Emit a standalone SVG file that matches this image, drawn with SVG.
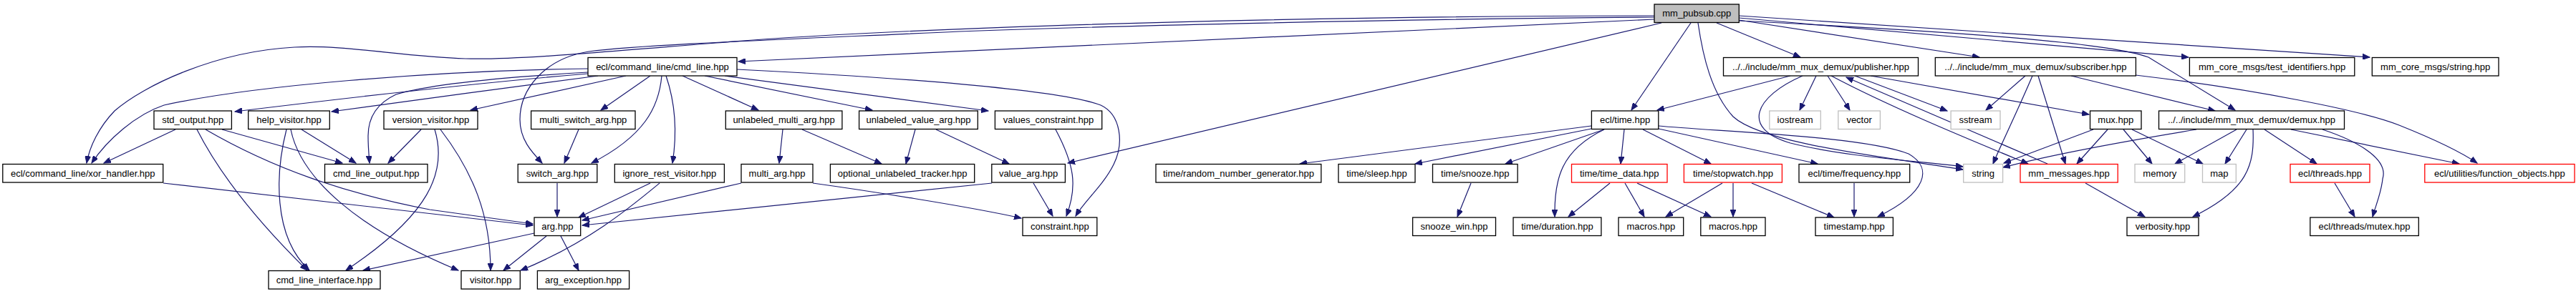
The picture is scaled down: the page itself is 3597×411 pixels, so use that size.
<svg xmlns="http://www.w3.org/2000/svg" width="3597" height="411" viewBox="0 0 3597 411">
<style>
.node rect{fill:#fff;stroke:#000;stroke-width:1.3}
.node.ext rect{stroke:#bfbfbf}
.node.trunc rect{stroke:#ff0000}
.node.main rect{fill:#bfbfbf}
.node text{font-family:"Liberation Sans",Arial,sans-serif;font-size:13px;fill:#000;text-anchor:middle}
.edges path{fill:none;stroke:#191970;stroke-width:1.2;marker-end:url(#arr)}
</style>
<defs>
<marker id="arr" markerUnits="userSpaceOnUse" markerWidth="11" markerHeight="8" refX="10" refY="4" orient="auto">
<path d="M0,0 L10,4 L0,8 z" fill="#191970" stroke="#191970" stroke-width="1"/>
</marker>
</defs>
<rect x="0" y="0" width="3597" height="411" fill="#fff"/>
<g class="edges" id="edges">
<path d="M2310,27 L1031,86"/>
<path d="M2310,22 C 1900,22 1300,35 1000,60 C 850,72 720,84 650,82 C 560,79 480,62 411,66 C 300,72 200,120 160,155 C 138,178 125,205 121,228"/>
<path d="M2310,24 C 1900,27 1500,38 1340,44 C 1100,55 900,62 822,72 C 760,82 726,125 726,167 C 726,195 742,212 757,228"/>
<path d="M2320,32 L1491,228"/>
<path d="M2361,32 L2278,154"/>
<path d="M2371,32 C 2378,80 2390,130 2420,163 C 2460,200 2620,218 2741,237"/>
<path d="M2397,32 L2514,80"/>
<path d="M2428,28 L2764,80"/>
<path d="M2428,29 C 2800,48 2950,62 3000,80 L3121,154"/>
<path d="M2428,25 L3056,80"/>
<path d="M2428,22 L3309,80"/>
<path d="M821,96 C 600,99 350,120 229,147 C 190,160 150,195 128,228"/>
<path d="M821,101 C 700,108 600,118 553,132 C 525,145 514,165 514,190 C 514,205 515,215 516,228"/>
<path d="M821,103 C 700,113 500,135 328,156"/>
<path d="M835,106 C 700,123 600,138 463,156"/>
<path d="M874,106 L657,154"/>
<path d="M908,106 L839,154"/>
<path d="M924,106 C 920,150 900,190 826,228"/>
<path d="M930,106 C 945,150 945,190 939,228"/>
<path d="M953,106 L1059,154"/>
<path d="M984,106 L1218,154"/>
<path d="M1012,106 L1380,155"/>
<path d="M1029,97 C 1250,108 1480,125 1537,147 C 1565,160 1570,200 1555,230 C 1540,260 1515,280 1502,302"/>
<path d="M245,181 L145,228"/>
<path d="M310,181 L478,228"/>
<path d="M275,181 C 310,250 370,320 429,378"/>
<path d="M287,181 C 380,235 480,270 600,293 L744,313"/>
<path d="M228,256 L744,315"/>
<path d="M421,181 L497,228"/>
<path d="M400,181 C 385,240 380,330 432,378"/>
<path d="M406,181 C 420,250 500,320 640,378"/>
<path d="M588,181 L542,228"/>
<path d="M607,181 C 625,240 600,300 483,378"/>
<path d="M615,181 C 660,240 685,300 685,378"/>
<path d="M808,181 L788,228"/>
<path d="M778,256 L778,303"/>
<path d="M908,256 L808,304"/>
<path d="M921,256 C 880,290 820,340 727,378"/>
<path d="M1093,181 L1088,228"/>
<path d="M1120,181 L1231,229"/>
<path d="M1035,256 L813,308"/>
<path d="M1135,256 C 1200,265 1350,288 1426,305"/>
<path d="M1278,181 L1265,229"/>
<path d="M1307,181 L1409,229"/>
<path d="M1474,181 C 1500,230 1505,260 1489,302"/>
<path d="M1443,256 L1470,302"/>
<path d="M1385,256 L813,315"/>
<path d="M746,326 L507,378"/>
<path d="M763,330 L703,378"/>
<path d="M783,330 L808,378"/>
<path d="M2222,176 L1815,229"/>
<path d="M2222,180 L1976,229"/>
<path d="M2240,181 L2102,229"/>
<path d="M2240,181 C 2180,210 2170,250 2171,303"/>
<path d="M2268,181 L2263,229"/>
<path d="M2294,181 L2389,229"/>
<path d="M2316,180 L2538,229"/>
<path d="M2316,176 C 2400,184 2600,190 2665,215 C 2700,235 2690,270 2622,303"/>
<path d="M2248,256 L2190,303"/>
<path d="M2269,256 L2296,303"/>
<path d="M2286,256 L2389,303"/>
<path d="M2405,256 L2326,303"/>
<path d="M2420,256 L2420,303"/>
<path d="M2446,256 L2561,304"/>
<path d="M2589,256 L2589,303"/>
<path d="M2054,256 L2035,303"/>
<path d="M2500,106 L2314,154"/>
<path d="M2517,106 C 2450,135 2430,180 2500,200 C 2580,220 2680,225 2741,233"/>
<path d="M2536,106 L2513,154"/>
<path d="M2552,106 L2583,154"/>
<path d="M2590,106 L2719,155"/>
<path d="M2557,106 C 2640,150 2750,195 2832,229"/>
<path d="M2859,229 L2578,108"/>
<path d="M2612,106 L2917,160"/>
<path d="M2828,106 L2773,154"/>
<path d="M2838,106 C 2815,160 2795,200 2783,229"/>
<path d="M2846,106 L2884,229"/>
<path d="M2892,106 L3093,155"/>
<path d="M2982,105 C 3150,125 3300,155 3350,175 C 3400,195 3440,215 3459,228"/>
<path d="M2923,181 L2798,228"/>
<path d="M2943,181 L2900,229"/>
<path d="M2965,181 L3005,229"/>
<path d="M2977,181 L3076,229"/>
<path d="M3067,181 C 3000,192 2880,212 2797,234"/>
<path d="M3123,181 L3037,229"/>
<path d="M3137,181 L3107,229"/>
<path d="M3146,181 C 3148,230 3140,265 3062,303"/>
<path d="M3162,181 L3235,229"/>
<path d="M3199,181 L3434,229"/>
<path d="M3243,181 C 3300,200 3335,225 3327,250 C 3325,270 3318,285 3313,303"/>
<path d="M3260,256 L3288,303"/>
<path d="M2912,256 L2995,303"/>
</g>
<g id="n_main" class="node main"><rect x="2310" y="6" width="118.3" height="25.5"/><text x="2369.2" y="23.4">mm_pubsub.cpp</text></g>
<g id="n_cmdline" class="node"><rect x="821" y="80.5" width="208" height="25.5"/><text x="925" y="97.9">ecl/command_line/cmd_line.hpp</text></g>
<g id="n_pub" class="node"><rect x="2406.5" y="80.5" width="272" height="25.5"/><text x="2542.5" y="97.9">../../include/mm_mux_demux/publisher.hpp</text></g>
<g id="n_sub" class="node"><rect x="2702.3" y="80.5" width="280.1" height="25.5"/><text x="2842.35" y="97.9">../../include/mm_mux_demux/subscriber.hpp</text></g>
<g id="n_testid" class="node"><rect x="3057.4" y="80.5" width="230.4" height="25.5"/><text x="3172.6" y="97.9">mm_core_msgs/test_identifiers.hpp</text></g>
<g id="n_mcstring" class="node"><rect x="3312.3" y="80.5" width="176.7" height="25.5"/><text x="3400.65" y="97.9">mm_core_msgs/string.hpp</text></g>
<g id="n_stdout" class="node"><rect x="215" y="155" width="108.4" height="25.5"/><text x="269.2" y="172.4">std_output.hpp</text></g>
<g id="n_help" class="node"><rect x="346.7" y="155" width="113.6" height="25.5"/><text x="403.5" y="172.4">help_visitor.hpp</text></g>
<g id="n_version" class="node"><rect x="536" y="155" width="131" height="25.5"/><text x="601.5" y="172.4">version_visitor.hpp</text></g>
<g id="n_mswitch" class="node"><rect x="741.6" y="155" width="145.4" height="25.5"/><text x="814.3" y="172.4">multi_switch_arg.hpp</text></g>
<g id="n_umulti" class="node"><rect x="1013.3" y="155" width="162.6" height="25.5"/><text x="1094.6" y="172.4">unlabeled_multi_arg.hpp</text></g>
<g id="n_uvalue" class="node"><rect x="1199.6" y="155" width="165.7" height="25.5"/><text x="1282.45" y="172.4">unlabeled_value_arg.hpp</text></g>
<g id="n_valcons" class="node"><rect x="1389.4" y="155" width="149.3" height="25.5"/><text x="1464.05" y="172.4">values_constraint.hpp</text></g>
<g id="n_time" class="node"><rect x="2222.4" y="155" width="93.4" height="25.5"/><text x="2269.1" y="172.4">ecl/time.hpp</text></g>
<g id="n_iostream" class="node ext"><rect x="2470.8" y="155" width="71.5" height="25.5"/><text x="2506.55" y="172.4">iostream</text></g>
<g id="n_vector" class="node ext"><rect x="2566.8" y="155" width="58.6" height="25.5"/><text x="2596.1" y="172.4">vector</text></g>
<g id="n_sstream" class="node ext"><rect x="2724.1" y="155" width="68.9" height="25.5"/><text x="2758.55" y="172.4">sstream</text></g>
<g id="n_mux" class="node"><rect x="2918.5" y="155" width="71.5" height="25.5"/><text x="2954.25" y="172.4">mux.hpp</text></g>
<g id="n_demux" class="node"><rect x="3014.5" y="155" width="259" height="25.5"/><text x="3144" y="172.4">../../include/mm_mux_demux/demux.hpp</text></g>
<g id="n_xor" class="node"><rect x="3.8" y="229.5" width="223.9" height="25.5"/><text x="115.75" y="246.9">ecl/command_line/xor_handler.hpp</text></g>
<g id="n_cloutput" class="node"><rect x="453.5" y="229.5" width="143.5" height="25.5"/><text x="525.25" y="246.9">cmd_line_output.hpp</text></g>
<g id="n_switch" class="node"><rect x="723.2" y="229.5" width="110.6" height="25.5"/><text x="778.5" y="246.9">switch_arg.hpp</text></g>
<g id="n_ignore" class="node"><rect x="858.3" y="229.5" width="153.1" height="25.5"/><text x="934.85" y="246.9">ignore_rest_visitor.hpp</text></g>
<g id="n_multi" class="node"><rect x="1035" y="229.5" width="100" height="25.5"/><text x="1085" y="246.9">multi_arg.hpp</text></g>
<g id="n_optional" class="node"><rect x="1159.4" y="229.5" width="201.3" height="25.5"/><text x="1260.05" y="246.9">optional_unlabeled_tracker.hpp</text></g>
<g id="n_valuearg" class="node"><rect x="1384.8" y="229.5" width="102.6" height="25.5"/><text x="1436.1" y="246.9">value_arg.hpp</text></g>
<g id="n_rng" class="node"><rect x="1614" y="229.5" width="230.8" height="25.5"/><text x="1729.4" y="246.9">time/random_number_generator.hpp</text></g>
<g id="n_sleep" class="node"><rect x="1868.9" y="229.5" width="107.1" height="25.5"/><text x="1922.45" y="246.9">time/sleep.hpp</text></g>
<g id="n_snooze" class="node"><rect x="2000.5" y="229.5" width="118.6" height="25.5"/><text x="2059.8" y="246.9">time/snooze.hpp</text></g>
<g id="n_timedata" class="node trunc"><rect x="2194.5" y="229.5" width="133.5" height="25.5"/><text x="2261.25" y="246.9">time/time_data.hpp</text></g>
<g id="n_stopwatch" class="node trunc"><rect x="2351.4" y="229.5" width="137" height="25.5"/><text x="2419.9" y="246.9">time/stopwatch.hpp</text></g>
<g id="n_freq" class="node"><rect x="2512" y="229.5" width="154.7" height="25.5"/><text x="2589.35" y="246.9">ecl/time/frequency.hpp</text></g>
<g id="n_string" class="node ext"><rect x="2741.7" y="229.5" width="54.9" height="25.5"/><text x="2769.15" y="246.9">string</text></g>
<g id="n_mmmsg" class="node trunc"><rect x="2821" y="229.5" width="136.2" height="25.5"/><text x="2889.1" y="246.9">mm_messages.hpp</text></g>
<g id="n_memory" class="node ext"><rect x="2981" y="229.5" width="69.7" height="25.5"/><text x="3015.85" y="246.9">memory</text></g>
<g id="n_map" class="node ext"><rect x="3075.5" y="229.5" width="46.8" height="25.5"/><text x="3098.9" y="246.9">map</text></g>
<g id="n_threads" class="node trunc"><rect x="3198" y="229.5" width="111" height="25.5"/><text x="3253.5" y="246.9">ecl/threads.hpp</text></g>
<g id="n_funcobj" class="node trunc"><rect x="3385.8" y="229.5" width="209.2" height="25.5"/><text x="3490.4" y="246.9">ecl/utilities/function_objects.hpp</text></g>
<g id="n_arg" class="node"><rect x="746" y="304" width="64.7" height="25.5"/><text x="778.35" y="321.4">arg.hpp</text></g>
<g id="n_constraint" class="node"><rect x="1428" y="304" width="103.8" height="25.5"/><text x="1479.9" y="321.4">constraint.hpp</text></g>
<g id="n_snoozewin" class="node"><rect x="1972.6" y="304" width="115.9" height="25.5"/><text x="2030.55" y="321.4">snooze_win.hpp</text></g>
<g id="n_duration" class="node"><rect x="2113" y="304" width="122.9" height="25.5"/><text x="2174.45" y="321.4">time/duration.hpp</text></g>
<g id="n_macros1" class="node"><rect x="2260" y="304" width="90.7" height="25.5"/><text x="2305.35" y="321.4">macros.hpp</text></g>
<g id="n_macros2" class="node"><rect x="2374.8" y="304" width="90.2" height="25.5"/><text x="2419.9" y="321.4">macros.hpp</text></g>
<g id="n_timestamp" class="node"><rect x="2535" y="304" width="108.4" height="25.5"/><text x="2589.2" y="321.4">timestamp.hpp</text></g>
<g id="n_verbosity" class="node"><rect x="2970" y="304" width="100" height="25.5"/><text x="3020" y="321.4">verbosity.hpp</text></g>
<g id="n_mutex" class="node"><rect x="3225.8" y="304" width="151.5" height="25.5"/><text x="3301.55" y="321.4">ecl/threads/mutex.hpp</text></g>
<g id="n_cli" class="node"><rect x="375" y="378.5" width="156" height="25.5"/><text x="453" y="395.9">cmd_line_interface.hpp</text></g>
<g id="n_visitor" class="node"><rect x="644" y="378.5" width="82.3" height="25.5"/><text x="685.15" y="395.9">visitor.hpp</text></g>
<g id="n_argexc" class="node"><rect x="750.4" y="378.5" width="128.2" height="25.5"/><text x="814.5" y="395.9">arg_exception.hpp</text></g>
</svg>
